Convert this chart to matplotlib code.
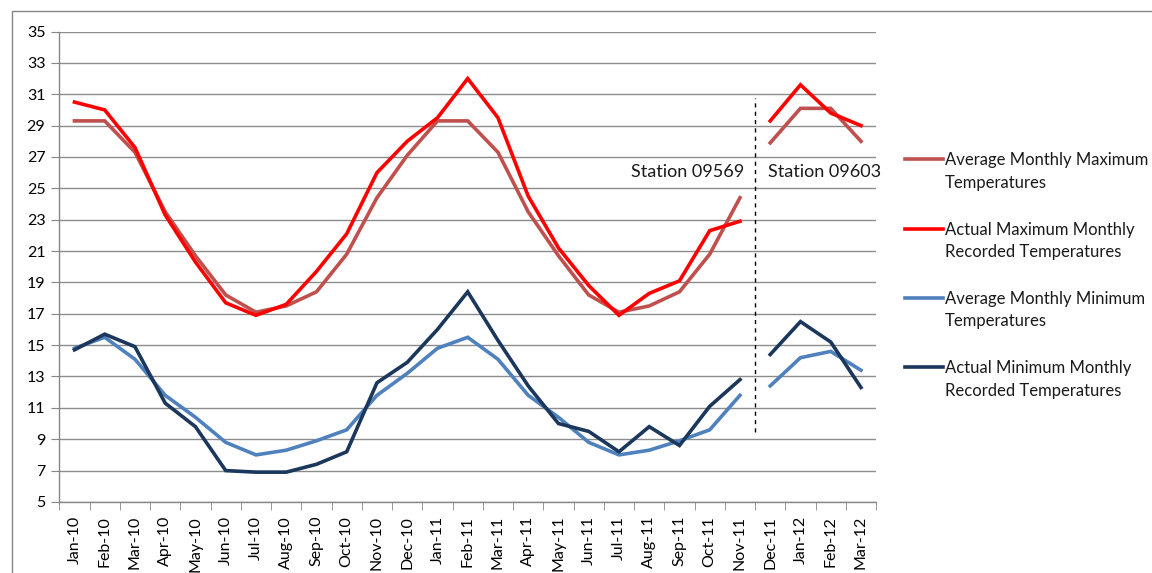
import matplotlib
matplotlib.use('Agg')
import matplotlib.pyplot as plt
import numpy as np
from matplotlib.patches import Rectangle

plt.rcParams['font.family'] = ['Lato', 'DejaVu Sans']

months = ['Jan-10', 'Feb-10', 'Mar-10', 'Apr-10', 'May-10', 'Jun-10', 'Jul-10', 'Aug-10', 'Sep-10',
          'Oct-10', 'Nov-10', 'Dec-10', 'Jan-11', 'Feb-11', 'Mar-11', 'Apr-11', 'May-11', 'Jun-11',
          'Jul-11', 'Aug-11', 'Sep-11', 'Oct-11', 'Nov-11', 'Dec-11', 'Jan-12', 'Feb-12', 'Mar-12']

avg_max = [29.3, 29.3, 27.3, 23.5, 20.7, 18.2, 17.1, 17.5, 18.4, 20.8, 24.4, 27.1, 29.3, 29.3,
           27.3, 23.5, 20.7, 18.2, 17.1, 17.5, 18.4, 20.8, 24.4, 27.9, 30.1, 30.1, 28.0]
act_max = [30.5, 30.0, 27.6, 23.3, 20.3, 17.7, 16.9, 17.6, 19.7, 22.1, 26.0, 28.0, 29.5, 32.0,
           29.5, 24.5, 21.2, 18.8, 16.9, 18.3, 19.1, 22.3, 22.9, 29.3, 31.6, 29.8, 29.0]
avg_min = [14.8, 15.5, 14.1, 11.8, 10.4, 8.8, 8.0, 8.3, 8.9, 9.6, 11.8, 13.2, 14.8, 15.5,
           14.1, 11.8, 10.4, 8.8, 8.0, 8.3, 8.9, 9.6, 11.8, 12.4, 14.2, 14.6, 13.4]
act_min = [14.7, 15.7, 14.9, 11.3, 9.8, 7.0, 6.9, 6.9, 7.4, 8.2, 12.6, 13.9, 16.0, 18.4,
           15.3, 12.4, 10.0, 9.5, 8.2, 9.8, 8.6, 11.1, 12.8, 14.4, 16.5, 15.2, 12.3]

labels = ['Average Monthly Maximum\nTemperatures',
          'Actual Maximum Monthly\nRecorded Temperatures',
          'Average Monthly Minimum\nTemperatures',
          'Actual Minimum Monthly\nRecorded Temperatures']
colors = ['#C0504D', '#FF0000', '#4F81BD', '#1B375C']
split = 23  # station changes after Nov-11

fig = plt.figure(figsize=(11.52, 5.73), dpi=100)
ax = fig.add_axes([0.0515, 0.124, 0.709, 0.821])

x = np.arange(len(months))
for series, lab, col in zip([avg_max, act_max, avg_min, act_min], labels, colors):
    y = np.array(series)
    ax.plot(x[:split], y[:split], color=col, lw=2.6, label=lab, solid_joinstyle='miter')
    ax.plot(x[split:], y[split:], color=col, lw=2.6, solid_joinstyle='miter')

# station boundary
ax.vlines(split - 0.5, 9.45, 30.75, colors='black', linestyles=(0, (3, 3)), lw=1)
ax.text(split - 0.87, 26.05, 'Station 09569', ha='right', va='center', fontsize=13, color='#1a1a1a')
ax.text(split - 0.08, 26.05, 'Station 09603', ha='left', va='center', fontsize=13, color='#1a1a1a')

ax.set_xlim(-0.5, len(months) - 0.5)
ax.set_ylim(5, 35)
ax.set_yticks(np.arange(5, 36, 2))
ax.set_xticks(x)
ax.set_xticklabels(months, rotation=90, fontsize=11.5)
ax.set_xticks(np.arange(-0.5, len(months), 1), minor=True)
ax.tick_params(axis='x', which='major', length=0, pad=10)
ax.tick_params(axis='x', which='minor', length=6, color='#868686', direction='out')
ax.tick_params(axis='y', length=6, color='#868686', labelsize=11.5, pad=4)
ax.yaxis.grid(True, color='#8C8C8C', lw=1)
ax.set_axisbelow(True)
for s in ['top', 'right']:
    ax.spines[s].set_visible(False)
for s in ['left', 'bottom']:
    ax.spines[s].set_color('#868686')
    ax.spines[s].set_linewidth(1)

leg = ax.legend(loc='upper left', bbox_to_anchor=(0.7800, 0.746), bbox_transform=fig.transFigure,
                frameon=False, fontsize=12.0, handlelength=2.25, handletextpad=0.15,
                labelspacing=1.85, handleheight=1.15, borderaxespad=0)
for t in leg.get_texts():
    t.set_linespacing(1.5)
    t.set_color('#1a1a1a')
for hp in leg._legend_handle_box.get_children()[0].get_children():
    hp.align = 'top'

# outer chart border
fig.add_artist(Rectangle((12 / 1152, -0.5), 1.5, 0.5 + 1 - 11 / 573, transform=fig.transFigure,
                         fill=False, edgecolor='#868686', lw=1))

fig.savefig('out.png', dpi=100)
